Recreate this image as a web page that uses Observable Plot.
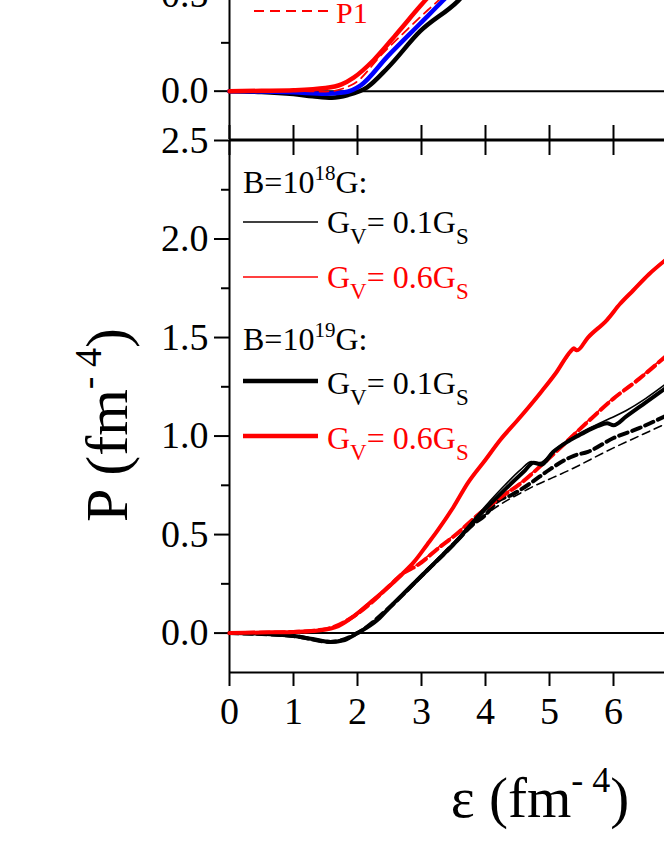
<!DOCTYPE html>
<html>
<head>
<meta charset="utf-8">
<script src="https://cdn.jsdelivr.net/npm/d3@7"></script>
<script src="https://cdn.jsdelivr.net/npm/@observablehq/plot@0.6"></script>
<style>
  html, body { margin: 0; padding: 0; background: #fff; }
  #wrap { position: relative; width: 664px; height: 860px; overflow: hidden; background: #fff; }
  #wrap > svg, #wrap > figure { position: absolute; left: 0; margin: 0; }
  #legend { top: 0; pointer-events: none; }
</style>
</head>
<body>
<div id="wrap"></div>
<script>
// ---------- tick values ----------
const xTicks = [0, 1, 2, 3, 4, 5, 6];
const yMajorBottom = [0, 0.5, 1.0, 1.5, 2.0, 2.5];
const yMinorBottom = [0.25, 0.75, 1.25, 1.75, 2.25];
const yMajorTop = [0, 0.5, 1.0];
const yMinorTop = [0.25, 0.75];

// ---------- lower panel: [epsilon, P] ----------
// B = 1e19 G, Gv = 0.6 Gs (thick red solid)
const b19g06Solid = [[0,0],[0.5,0.003],[1,0.006],[1.42,0.014],[1.7,0.035],[1.94,0.085],[2.2,0.155],[2.47,0.23],[2.7,0.30],[2.88,0.36],[3.09,0.45],[3.25,0.52],[3.5,0.64],[3.72,0.76],[4.0,0.88],[4.23,0.98],[4.5,1.08],[4.86,1.22],[5.1,1.32],[5.33,1.43],[5.38,1.445],[5.43,1.435],[5.6,1.50],[5.9,1.59],[6.1,1.67],[6.31,1.74],[6.55,1.82],[6.8,1.89]];
// B = 1e18 G, Gv = 0.6 Gs (thin red solid)
const b18g06Solid = [[0,0],[0.5,0.003],[1,0.007],[1.42,0.016],[1.7,0.038],[1.94,0.09],[2.2,0.16],[2.47,0.235],[2.7,0.305],[2.88,0.365],[3.09,0.455],[3.25,0.525],[3.5,0.645],[3.72,0.765],[4.0,0.885],[4.23,0.985],[4.5,1.085],[4.86,1.225],[5.1,1.325],[5.3,1.41],[5.36,1.44],[5.42,1.43],[5.6,1.495],[5.9,1.595],[6.1,1.675],[6.31,1.745],[6.55,1.825],[6.8,1.895]];
// B = 1e19 G, Gv = 0.1 Gs (thick black solid)
const b19g01Solid = [[0,0],[0.5,-0.003],[1,-0.015],[1.3,-0.03],[1.58,-0.045],[1.8,-0.035],[2.0,0.0],[2.31,0.066],[2.5,0.13],[2.78,0.22],[3.03,0.30],[3.25,0.37],[3.5,0.45],[3.72,0.53],[4.0,0.63],[4.34,0.74],[4.6,0.82],[4.75,0.865],[4.87,0.855],[5.06,0.92],[5.3,0.975],[5.5,1.01],[5.75,1.05],[5.9,1.065],[6.0,1.055],[6.2,1.10],[6.5,1.17],[6.8,1.24]];
// B = 1e18 G, Gv = 0.1 Gs (thin black solid)
const b18g01Solid = [[0,0],[0.5,-0.003],[1,-0.014],[1.3,-0.028],[1.58,-0.042],[1.8,-0.033],[2.0,0.002],[2.31,0.07],[2.5,0.135],[2.78,0.225],[3.03,0.305],[3.25,0.375],[3.5,0.455],[3.72,0.54],[4.0,0.645],[4.3,0.75],[4.55,0.83],[4.72,0.87],[4.85,0.865],[5.06,0.925],[5.3,0.98],[5.5,1.02],[5.75,1.06],[5.95,1.09],[6.2,1.13],[6.5,1.19],[6.8,1.26]];
// B = 1e19 G, Gv = 0.6 Gs (thick red dashed)
const b19g06Dash = [[0,0],[1,0.006],[1.5,0.02],[1.94,0.085],[2.2,0.15],[2.5,0.24],[2.7,0.30],[2.94,0.345],[3.3,0.44],[3.5,0.49],[3.92,0.61],[4.2,0.68],[4.55,0.76],[5.0,0.89],[5.59,1.07],[6.0,1.19],[6.4,1.29],[6.8,1.40]];
// B = 1e18 G, Gv = 0.6 Gs (thin red dashed)
const b18g06Dash = [[0,0],[1,0.006],[1.5,0.02],[1.94,0.085],[2.2,0.15],[2.5,0.24],[2.7,0.30],[2.94,0.35],[3.3,0.445],[3.5,0.495],[3.92,0.615],[4.2,0.685],[4.55,0.765],[5.0,0.895],[5.59,1.075],[6.0,1.195],[6.4,1.295],[6.8,1.405]];
// B = 1e19 G, Gv = 0.1 Gs (thick black dashed)
const b19g01Dash = [[0,0],[1,-0.015],[1.58,-0.045],[2.0,0.0],[2.5,0.13],[3.0,0.29],[3.5,0.45],[3.8,0.55],[4.0,0.60],[4.19,0.67],[4.4,0.70],[4.7,0.76],[5.0,0.83],[5.38,0.90],[5.6,0.92],[6.0,0.99],[6.4,1.04],[6.8,1.10]];
// B = 1e18 G, Gv = 0.1 Gs (thin black dashed)
const b18g01Dash = [[0,0],[1,-0.014],[1.58,-0.042],[2.0,0.002],[2.5,0.135],[3.0,0.295],[3.5,0.46],[3.8,0.55],[4.08,0.62],[4.66,0.73],[5.33,0.83],[6.0,0.94],[6.4,1.00],[6.8,1.06]];

// ---------- upper panel: [epsilon, P] ----------
const topRed = [[0,0],[0.5,0.002],[1,0.005],[1.5,0.016],[1.75,0.035],[1.94,0.07],[2.25,0.16],[2.62,0.30],[2.98,0.44],[3.14,0.50],[3.4,0.60]];
const topBlue = [[0,0],[0.5,-0.002],[1,-0.006],[1.5,-0.013],[1.8,-0.006],[2.05,0.03],[2.47,0.18],[2.98,0.35],[3.34,0.47],[3.6,0.56]];
const topBlack = [[0,0],[0.5,-0.004],[1,-0.015],[1.3,-0.026],[1.6,-0.034],[1.85,-0.02],[2.15,0.02],[2.47,0.12],[2.98,0.31],[3.58,0.47],[3.8,0.55]];
const topRedDash = [[0,0],[1,0.001],[1.5,-0.002],[1.95,0.04],[2.38,0.19],[2.78,0.32],[3.1,0.42],[3.3,0.48],[3.55,0.57]];

const RED = "#ff0000", BLUE = "#0000ff", BLACK = "#000000";
const font = "Liberation Serif, Times New Roman, serif";
const xDomain = [0, 435 / 64];
const line = (data, stroke, w, dash) =>
  Plot.line(data, {x: d => d[0], y: d => d[1], stroke, strokeWidth: w, strokeDasharray: dash, curve: "monotone-x"});

// ---------- lower panel ----------
const bottomPlot = Plot.plot({
  width: 664, height: 860,
  marginLeft: 229, marginRight: 0, marginTop: 140, marginBottom: 188,
  x: {domain: xDomain},
  y: {domain: [-0.2, 2.5]},
  style: {fontFamily: font, fontSize: "38px", color: "black", background: "transparent", overflow: "visible"},
  marks: [
    Plot.axisY({ticks: yMajorBottom, tickSize: 15, tickPadding: 6, tickFormat: d3.format(".1f"), label: null, strokeWidth: 2}),
    Plot.axisY({ticks: yMinorBottom, tickSize: 8, tickFormat: () => "", label: null, strokeWidth: 2}),
    Plot.axisX({ticks: xTicks, tickSize: 14, tickPadding: 11, tickFormat: d => String(d), label: null, strokeWidth: 2}),
    Plot.tickX(xTicks, {x: d => d, insetBottom: 532 - 15, strokeWidth: 2}),
    Plot.ruleX([0], {strokeWidth: 2}),
    Plot.ruleY([-0.2, 2.5, 0], {strokeWidth: 2}),
    line(b18g01Dash, BLACK, 1.6, "8,5"),
    line(b19g01Dash, BLACK, 4, "9,5"),
    line(b18g06Dash, RED, 1.6, "8,5"),
    line(b19g06Dash, RED, 4, "10,5"),
    line(b19g01Solid, BLACK, 4),
    line(b18g01Solid, BLACK, 1.6),
    line(b19g06Solid, RED, 4),
    line(b18g06Solid, RED, 1.6)
  ]
});
bottomPlot.style.top = "0px";

// ---------- upper panel ----------
const topH = 290;
const topPlot = Plot.plot({
  width: 664, height: topH,
  marginLeft: 229, marginRight: 0, marginTop: 0, marginBottom: 0,
  x: {domain: xDomain, axis: null},
  y: {domain: [-0.25, 1.25]},
  style: {fontFamily: font, fontSize: "38px", color: "black", background: "transparent", overflow: "visible"},
  marks: [
    Plot.axisY({ticks: yMajorTop, tickSize: 15, tickPadding: 6, tickFormat: d3.format(".1f"), label: null, strokeWidth: 2}),
    Plot.axisY({ticks: yMinorTop, tickSize: 8, tickFormat: () => "", label: null, strokeWidth: 2}),
    Plot.tickX(xTicks, {x: d => d, insetTop: topH - 14, strokeWidth: 2}),
    Plot.ruleX([0], {strokeWidth: 2}),
    Plot.ruleY([0, -0.25], {strokeWidth: 2}),
    line(topBlack, BLACK, 4.5),
    line(topBlue, BLUE, 4.5),
    line(topRed, RED, 4.5),
    line(topRedDash, RED, 1.8, "9,6")
  ]
});
topPlot.style.top = (139 - topH) + "px";

const wrap = document.getElementById("wrap");
wrap.appendChild(bottomPlot);
wrap.appendChild(topPlot);

// ---------- legends and axis titles (text overlay) ----------
const ns = "http://www.w3.org/2000/svg";
const ov = document.createElementNS(ns, "svg");
ov.setAttribute("id", "legend");
ov.setAttribute("width", 664);
ov.setAttribute("height", 860);
ov.style.fontFamily = font;
wrap.appendChild(ov);

function el(tag, attrs, parent) {
  const e = document.createElementNS(ns, tag);
  for (const k in attrs) e.setAttribute(k, attrs[k]);
  (parent || ov).appendChild(e);
  return e;
}
function rich(parent, parts) {
  for (const p of parts) {
    const t = el("tspan", p.a || {}, parent);
    t.textContent = p.t;
  }
}
function sample(y, color, w, dash) {
  el("line", {x1: 243, x2: 318, y1: y, y2: y, stroke: color, "stroke-width": w, "stroke-dasharray": dash || "none"});
}
function gLabel(y, val, color) {
  const t = el("text", {x: 327, y, "font-size": 32, fill: color});
  rich(t, [
    {t: "G"},
    {t: "V", a: {"font-size": 23, dy: 11}},
    {t: "= " + val + "G", a: {dy: -11}},
    {t: "S", a: {"font-size": 23, dy: 11}}
  ]);
}
function bTitle(y, exp) {
  const t = el("text", {x: 243, y, "font-size": 32, fill: BLACK});
  rich(t, [
    {t: "B=10"},
    {t: exp, a: {"font-size": 21, dy: -13}},
    {t: "G:", a: {dy: 13}}
  ]);
}
bTitle(193, "18");
sample(222, BLACK, 1.6); gLabel(233, "0.1", BLACK);
sample(277, RED, 1.6); gLabel(288, "0.6", RED);
bTitle(350, "19");
sample(381, BLACK, 4.5); gLabel(394, "0.1", BLACK);
sample(436, RED, 4.5); gLabel(449, "0.6", RED);

// upper-panel legend fragment
el("line", {x1: 254, x2: 330, y1: 11, y2: 11, stroke: RED, "stroke-width": 1.8, "stroke-dasharray": "10,6"});
const p1 = el("text", {x: 336, y: 23, "font-size": 30, fill: RED});
p1.textContent = "P1";

// axis titles
const xt = el("text", {x: 540, y: 817, "font-size": 57, "text-anchor": "middle", fill: BLACK});
rich(xt, [{t: "ε (fm"}, {t: "- 4", a: {"font-size": 36, dy: -25}}, {t: ")", a: {dy: 25}}]);
const yt = el("text", {transform: "translate(127,425) rotate(-90)", "font-size": 60, "text-anchor": "middle", fill: BLACK});
rich(yt, [{t: "P (fm"}, {t: "- 4", a: {"font-size": 38, dy: -26}}, {t: ")", a: {dy: 26}}]);
</script>
</body>
</html>
